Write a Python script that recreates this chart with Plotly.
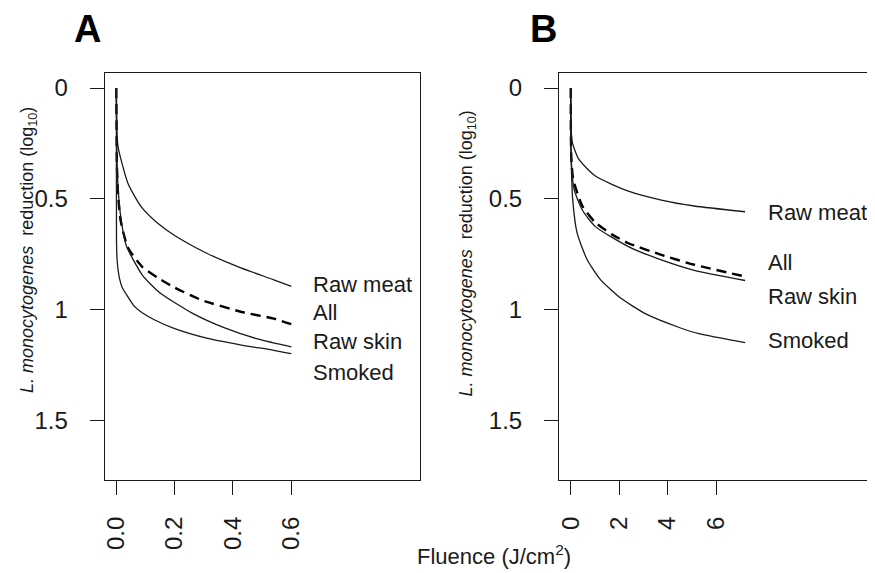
import plotly.graph_objects as go

# ---------------- data ----------------
# Panel A (fluence 0 - 0.6 J/cm2)
a_meat_x = [0, 0.002, 0.006, 0.015, 0.04, 0.085, 0.142, 0.2, 0.31, 0.425, 0.54, 0.6]
a_meat_y = [0, 0.20, 0.265, 0.317, 0.43, 0.535, 0.61, 0.665, 0.745, 0.81, 0.865, 0.895]

a_all_x = [0, 0.002, 0.006, 0.015, 0.04, 0.088, 0.145, 0.2, 0.29, 0.43, 0.54, 0.6]
a_all_y = [0, 0.35, 0.48, 0.60, 0.72, 0.805, 0.858, 0.9, 0.955, 1.01, 1.04, 1.065]

a_skin_x = [0, 0.002, 0.006, 0.015, 0.034, 0.09, 0.148, 0.26, 0.374, 0.488, 0.6]
a_skin_y = [0, 0.30, 0.45, 0.58, 0.71, 0.845, 0.922, 1.015, 1.083, 1.133, 1.168]

a_smoked_x = [0, 0.0005, 0.002, 0.005, 0.011, 0.02, 0.034, 0.062, 0.09, 0.13, 0.2, 0.31, 0.425, 0.54, 0.6]
a_smoked_y = [0, 0.68, 0.76, 0.81, 0.86, 0.90, 0.93, 0.985, 1.015, 1.045, 1.085, 1.128, 1.158, 1.183, 1.198]

# Panel B (fluence 0 - 7.2 J/cm2)
b_meat_x = [0, 0.02, 0.07, 0.34, 1.02, 2.38, 3.74, 5.1, 7.2]
b_meat_y = [0, 0.19, 0.247, 0.322, 0.397, 0.465, 0.505, 0.532, 0.558]

b_all_x = [0, 0.02, 0.1, 0.48, 1.02, 1.7, 2.38, 3.74, 5.1, 7.2]
b_all_y = [0, 0.30, 0.41, 0.532, 0.607, 0.66, 0.70, 0.752, 0.797, 0.85]

b_skin_x = [0, 0.02, 0.14, 0.48, 1.02, 2.38, 3.74, 5.1, 7.2]
b_skin_y = [0, 0.32, 0.457, 0.55, 0.625, 0.715, 0.775, 0.822, 0.868]

b_smoked_x = [0, 0.02, 0.08, 0.26, 0.67, 1.21, 2.03, 3.12, 4.48, 5.29, 7.2]
b_smoked_y = [0, 0.32, 0.50, 0.652, 0.772, 0.862, 0.945, 1.02, 1.08, 1.108, 1.148]

series_names = ["Raw meat", "All", "Raw skin", "Smoked"]
a_label_y = [0.887, 1.014, 1.142, 1.284]
b_label_y = [0.562, 0.787, 0.938, 1.14]

y_tickvals = [0, 0.5, 1, 1.5]
y_ticktext = ["0", "0.5", "1", "1.5"]
a_tickvals = [0, 0.2, 0.4, 0.6]
a_ticktext = ["0.0", "0.2", "0.4", "0.6"]
b_tickvals = [0, 2, 4, 6]
b_ticktext = ["0", "2", "4", "6"]

# ---------------- figure ----------------
OFF = 8                      # default page margin of the html body
W, H = 875 - OFF, 573 - OFF
FONT = "Liberation Sans, Arial, sans-serif"
INK = "#1a1a1a"

fig = go.Figure()

solid = dict(color=INK, width=1.3, shape="spline", smoothing=0.6)
dashed = dict(color="#000000", width=2.4, dash="10px,6px", shape="spline", smoothing=0.6)

panel_a = [(a_meat_x, a_meat_y, solid), (a_all_x, a_all_y, dashed),
           (a_skin_x, a_skin_y, solid), (a_smoked_x, a_smoked_y, solid)]
panel_b = [(b_meat_x, b_meat_y, solid), (b_all_x, b_all_y, dashed),
           (b_skin_x, b_skin_y, solid), (b_smoked_x, b_smoked_y, solid)]

for (xs, ys, ln), nm in zip(panel_a, series_names):
    fig.add_trace(go.Scatter(x=xs, y=ys, mode="lines", line=ln, name=nm,
                             xaxis="x", yaxis="y", showlegend=False))
for (xs, ys, ln), nm in zip(panel_b, series_names):
    fig.add_trace(go.Scatter(x=xs, y=ys, mode="lines", line=ln, name=nm,
                             xaxis="x2", yaxis="y2", showlegend=False))

def px_x(p):
    return (p - OFF) / W

def px_y(p):
    return 1 - (p - OFF) / H

ydom = [px_y(480), px_y(73)]
axis_common = dict(showline=True, mirror=True, linecolor=INK, linewidth=1.2,
                   ticks="outside", ticklen=14, tickwidth=1.2, tickcolor=INK,
                   showgrid=False, zeroline=False,
                   tickfont=dict(family=FONT, size=24, color=INK))

fig.update_layout(
    width=W, height=H,
    margin=dict(l=0, r=0, t=0, b=0),
    paper_bgcolor="white", plot_bgcolor="white",
    xaxis=dict(domain=[px_x(102), px_x(418)], range=[-0.04, 1.04],
               tickvals=a_tickvals, ticktext=a_ticktext, tickangle=-90,
               ticklabelstandoff=12, anchor="y", **axis_common),
    yaxis=dict(domain=ydom, range=[1.768, -0.068],
               tickvals=y_tickvals, ticktext=y_ticktext,
               ticklabelstandoff=17, anchor="x", **axis_common),
    xaxis2=dict(domain=[px_x(558), px_x(873)], range=[-0.48, 12.48],
                tickvals=b_tickvals, ticktext=b_ticktext, tickangle=-90,
                ticklabelstandoff=12, anchor="y2", **axis_common),
    yaxis2=dict(domain=ydom, range=[1.768, -0.068],
                tickvals=y_tickvals, ticktext=y_ticktext,
                ticklabelstandoff=17, anchor="x2", **axis_common),
)

ann = []
for nm, yv in zip(series_names, a_label_y):
    ann.append(dict(x=0.669, y=yv, xref="x", yref="y", text=nm, showarrow=False,
                    xanchor="left", yanchor="middle",
                    font=dict(family=FONT, size=22, color=INK)))
for nm, yv in zip(series_names, b_label_y):
    ann.append(dict(x=8.08, y=yv, xref="x2", yref="y2", text=nm, showarrow=False,
                    xanchor="left", yanchor="middle",
                    font=dict(family=FONT, size=22, color=INK)))

ytitle = "<i>L. monocytogenes</i>  reduction (log<sub>10</sub>)"
ann.append(dict(x=px_x(25), y=px_y(250), xref="paper", yref="paper", text=ytitle,
                textangle=-90, showarrow=False, xanchor="center", yanchor="middle",
                font=dict(family=FONT, size=18, color=INK)))
ann.append(dict(x=px_x(466), y=px_y(253), xref="paper", yref="paper", text=ytitle,
                textangle=-90, showarrow=False, xanchor="center", yanchor="middle",
                font=dict(family=FONT, size=18, color=INK)))
ann.append(dict(x=px_x(493), y=px_y(555), xref="paper", yref="paper",
                text="Fluence (J/cm<sup>2</sup>)", showarrow=False,
                xanchor="center", yanchor="middle",
                font=dict(family=FONT, size=22, color=INK)))
ann.append(dict(x=px_x(85), y=px_y(29), xref="paper", yref="paper", text="<b>A</b>",
                showarrow=False, xanchor="center", yanchor="middle",
                font=dict(family=FONT, size=38, color="#000")))
ann.append(dict(x=px_x(542), y=px_y(29), xref="paper", yref="paper", text="<b>B</b>",
                showarrow=False, xanchor="center", yanchor="middle",
                font=dict(family=FONT, size=38, color="#000")))

fig.update_layout(annotations=ann)
fig.write_html("out.html")
